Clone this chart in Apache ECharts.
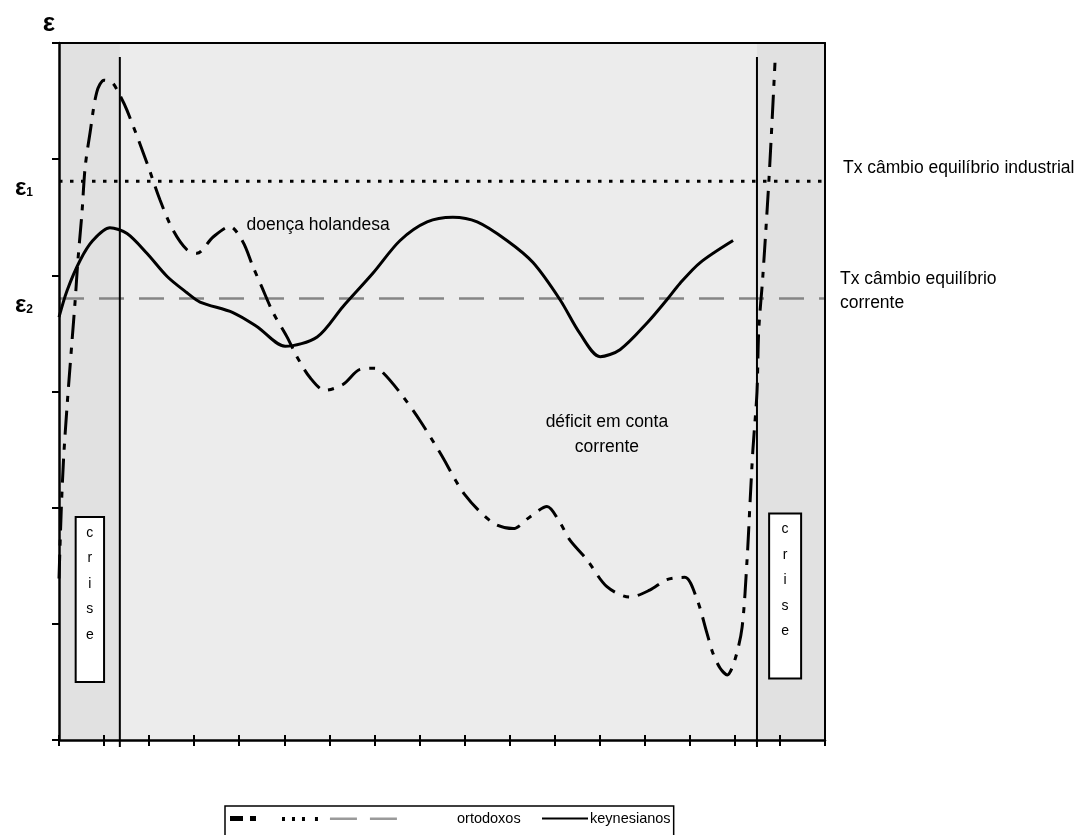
<!DOCTYPE html>
<html><head><meta charset="utf-8">
<script src="https://cdn.jsdelivr.net/npm/echarts@6/dist/echarts.min.js"></script>
<style>html,body{margin:0;padding:0;background:#fff}#c{width:1083px;height:835px}</style>
</head><body><div id="c"></div>
<script>
// axis ranges (no numeric labels in the original)
const X_RANGE = [0, 17];
const Y_RANGE = [0, 6];
// equilibrium exchange-rate levels
const E1 = 4.81;   // Tx câmbio equilíbrio industrial
const E2 = 3.80;   // Tx câmbio equilíbrio corrente
const E_LABELS = ['1', '2'];
const LINE_LABELS = ['Tx câmbio equilíbrio industrial', 'Tx câmbio equilíbrio\ncorrente'];
// ortodoxos path
const ortodoxos = [
  [0,1.39],[0.05,1.98],[0.10,2.41],[0.18,2.88],[0.29,3.44],[0.36,3.79],[0.42,4.13],[0.51,4.54],
  [0.58,4.93],[0.69,5.23],[0.84,5.58],[1.00,5.68],[1.18,5.66],[1.35,5.55],[1.51,5.42],[1.95,4.97],
  [2.24,4.65],[2.53,4.39],[2.84,4.22],[3.06,4.19],[3.42,4.33],[3.79,4.42],[4.08,4.29],[4.30,4.08],
  [4.50,3.90],[4.75,3.68],[5.06,3.47],[5.28,3.30],[5.57,3.12],[5.90,3.01],[6.30,3.06],[6.68,3.19],
  [7.01,3.20],[7.17,3.17],[7.57,2.99],[8.01,2.75],[8.46,2.47],[9.01,2.11],[9.63,1.87],[10.08,1.82],
  [10.45,1.92],[10.83,2.01],[11.12,1.87],[11.34,1.72],[11.72,1.55],[12.16,1.32],[12.67,1.23],
  [13.11,1.29],[13.49,1.38],[13.89,1.40],[14.16,1.21],[14.38,0.92],[14.51,0.75],[14.67,0.62],
  [14.83,0.56],[15.00,0.69],[15.16,0.97],[15.27,1.55],[15.34,2.07],[15.40,2.50],[15.49,2.99],
  [15.53,3.53],[15.62,3.99],[15.76,4.85],[15.89,5.83]
];
// keynesianos path
const keynesianos = [
  [0,3.64],[0.18,3.87],[0.47,4.13],[0.75,4.30],[1.13,4.41],[1.51,4.36],[1.95,4.19],[2.40,3.99],
  [2.84,3.85],[3.13,3.77],[3.86,3.68],[4.39,3.56],[5.02,3.39],[5.73,3.47],[6.30,3.73],[6.97,4.02],
  [7.57,4.30],[8.17,4.46],[8.74,4.50],[9.28,4.46],[9.94,4.30],[10.52,4.11],[11.12,3.79],[11.56,3.50],
  [12.01,3.30],[12.45,3.36],[13.05,3.59],[13.49,3.79],[13.78,3.93],[14.23,4.11],[14.96,4.30]
];
// crisis markers
const crisisLines = [1.35, 15.49];
const crisisLineSpan = [-0.06, 5.88];
const crisisBoxes = [[0.37, 1.92, 1.00, 0.50], [15.76, 1.95, 16.47, 0.53]];
const crisisText = 'crise';
// annotations
const notes = [
  {text: 'doença holandesa', at: [5.75, 4.43]},
  {text: 'déficit em conta\ncorrente', at: [12.16, 2.63]}
];

const FONT = '"Liberation Sans", Arial, sans-serif';
const chart = echarts.init(document.getElementById('c'), null, {renderer: 'canvas'});

const crisisSeries = crisisLines.map((x, i) => ({
  type: 'line', name: 'crise' + i, data: crisisLineSpan.map(y => [x, y]),
  symbol: 'none', clip: false, z: 5,
  lineStyle: {color: '#000', width: 2},
  markArea: {
    silent: true,
    itemStyle: {color: '#fff', borderColor: '#000', borderWidth: 2},
    label: {show: true, position: 'insideTop', distance: 4, formatter: crisisText.split('').join('\n'),
      color: '#000', fontSize: 14, lineHeight: 25.5, fontFamily: FONT},
    data: [[{coord: [crisisBoxes[i][0], crisisBoxes[i][1]]}, {coord: [crisisBoxes[i][2], crisisBoxes[i][3]]}]]
  }
}));

const iconPath = 'path://M0 0H13V5H0Z M20 0H26V5H20Z M52 1H55V5H52Z M62 1H65V5H62Z M72 1H75V5H72Z M85 1H88V5H85Z M100 1.5H127V4H100Z M140 1.5H167V4H140Z M222 2.5L222.1 2.5';

const frameAxis = {axisTick: {show: false}, axisLabel: {show: false}, splitLine: {show: false},
  axisLine: {onZero: false, lineStyle: {color: '#000', width: 2}}, z: 10};

const option = {
  animation: false,
  grid: {left: 59, right: 258, top: 43, bottom: 95, show: true, backgroundColor: '#ececec', borderWidth: 0},
  xAxis: [
    {type: 'value', min: X_RANGE[0], max: X_RANGE[1], interval: 1, position: 'bottom', z: 10,
      axisLine: {onZero: false, lineStyle: {color: '#000', width: 2.5}}, axisTick: {length: 6, lineStyle: {color: '#000', width: 2}},
      axisLabel: {show: false}, splitLine: {show: false}},
    {type: 'value', min: X_RANGE[0], max: X_RANGE[1], interval: 1, position: 'bottom', z: 10,
      axisLine: {show: false, onZero: false}, axisTick: {inside: true, length: 5, lineStyle: {color: '#000', width: 2}},
      axisLabel: {show: false}, splitLine: {show: false}},
    Object.assign({type: 'value', min: X_RANGE[0], max: X_RANGE[1], position: 'top'}, frameAxis)
  ],
  yAxis: [
    {type: 'value', min: Y_RANGE[0], max: Y_RANGE[1], interval: 1, position: 'left', z: 10,
      axisLine: {onZero: false, lineStyle: {color: '#000', width: 2.5}}, axisTick: {length: 7, lineStyle: {color: '#000', width: 2}},
      axisLabel: {show: false}, splitLine: {show: false},
      name: 'ε', nameLocation: 'end', nameGap: 6,
      nameTextStyle: {fontSize: 26, fontWeight: 'bold', color: '#000', fontFamily: FONT, padding: [0, 20, 0, 0]}},
    {type: 'value', min: Y_RANGE[0], max: Y_RANGE[1], position: 'left',
      axisLine: {show: false, onZero: false}, axisTick: {show: false}, splitLine: {show: false},
      axisLabel: {show: true, customValues: [E1, E2], margin: 26, padding: [14, 0, 0, 0],
        formatter: v => '{e|ε}{s|' + (Math.abs(v - E1) < 1e-6 ? E_LABELS[0] : E_LABELS[1]) + '}',
        rich: {e: {fontSize: 24, fontWeight: 'bold', color: '#000', fontFamily: FONT},
               s: {fontSize: 12, fontWeight: 'bold', color: '#000', fontFamily: FONT, padding: [8, 0, 0, 0]}}}},
    Object.assign({type: 'value', min: Y_RANGE[0], max: Y_RANGE[1], position: 'right'}, frameAxis)
  ],
  legend: [
    {left: 225, top: 806, padding: [5, 153, 15, 5], borderColor: '#000', borderWidth: 1.5,
      itemWidth: 222, itemHeight: 5, data: [{name: 'ortodoxos', icon: iconPath,
        itemStyle: {color: {type: 'linear', x: 0, y: 0, x2: 1, y2: 0, colorStops: [
          {offset: 0, color: '#000'}, {offset: 0.42, color: '#000'}, {offset: 0.43, color: '#9a9a9a'}, {offset: 1, color: '#9a9a9a'}]}}}],
      textStyle: {fontSize: 14.5, color: '#000', fontFamily: FONT}, selectedMode: false},
    {left: 537, top: 806, padding: 5, itemWidth: 46, itemHeight: 2,
      data: [{name: 'keynesianos', icon: 'path://M0 0H46V2H0Z', itemStyle: {color: '#000'}}],
      textStyle: {fontSize: 14.5, color: '#000', fontFamily: FONT, padding: [0, 0, 0, -3]}, selectedMode: false}
  ],
  series: [
    {type: 'line', name: 'bg', data: [], markArea: {silent: true, itemStyle: {color: '#e1e1e1'},
      data: [[{xAxis: X_RANGE[0]}, {xAxis: crisisLines[0]}], [{xAxis: crisisLines[1]}, {xAxis: X_RANGE[1]}]]}, z: 0},
    {type: 'line', name: 'e1', data: [[X_RANGE[0], E1], [X_RANGE[1], E1]], symbol: 'none', z: 3,
      lineStyle: {color: '#000', width: 3, type: [3.5, 7.5]},
      endLabel: {show: true, formatter: LINE_LABELS[0], distance: 18, offset: [0, -13], color: '#000', fontSize: 17.5, fontFamily: FONT}},
    {type: 'line', name: 'e2', data: [[X_RANGE[0], E2], [X_RANGE[1], E2]], symbol: 'none', z: 3,
      lineStyle: {color: '#858585', width: 2.5, type: [25, 15]},
      endLabel: {show: true, formatter: LINE_LABELS[1], distance: 15, offset: [0, -7], color: '#000', fontSize: 17.5, lineHeight: 24, fontFamily: FONT}},
    {type: 'line', name: 'ortodoxos', data: ortodoxos, smooth: 0.3, symbol: 'none', z: 4,
      color: '#000', lineStyle: {color: '#000', width: 3, type: [24, 9, 6, 9]}},
    {type: 'line', name: 'keynesianos', data: keynesianos, smooth: 0.3, symbol: 'none', z: 4,
      color: '#000', lineStyle: {color: '#000', width: 3}},
    ...crisisSeries,
    {type: 'scatter', name: 'notes', data: notes.map(n => ({name: n.text, value: n.at})), symbolSize: 1,
      itemStyle: {color: 'rgba(0,0,0,0)'}, silent: true, z: 6,
      label: {show: true, position: 'inside', formatter: '{b}', color: '#000', opacity: 1, textBorderWidth: 0,
        fontSize: 17.5, lineHeight: 25, fontFamily: FONT, align: 'center'}}
  ]
};
chart.setOption(option);
</script></body></html>
